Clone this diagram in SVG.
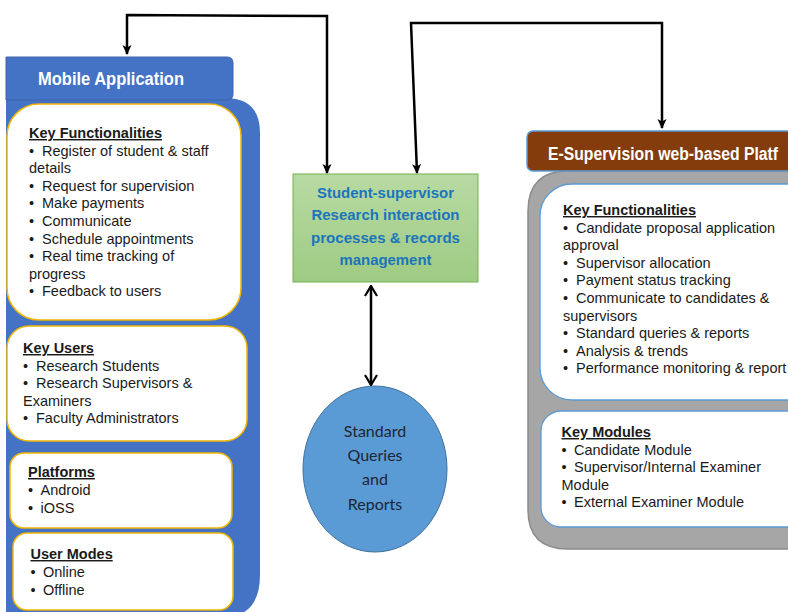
<svg xmlns="http://www.w3.org/2000/svg" width="788" height="612" viewBox="0 0 788 612">
<style>
.t{font-family:"Liberation Sans",Arial,sans-serif;font-size:14.5px;fill:#1a1a1a}
.h{font-family:"Liberation Sans",Arial,sans-serif;font-size:14.5px;font-weight:bold;fill:#1a1a1a;text-decoration:underline}
.wb{fill:#ffffff;stroke:#f2b705;stroke-width:1.5}
.wr{fill:#ffffff;stroke:#5b9bd5;stroke-width:1.3}
.hd{font-family:"Liberation Sans",Arial,sans-serif;font-size:17.5px;font-weight:bold;fill:#ffffff}
.g{font-family:"Liberation Sans",Arial,sans-serif;font-size:15px;font-weight:bold;fill:#1b75bc;text-anchor:middle}
.e{font-family:Lato,"Open Sans",sans-serif;font-size:16px;fill:#1d2633;text-anchor:middle}
.c{fill:none;stroke:#000;stroke-width:2.5}
</style>
<defs>
<marker id="fa" viewBox="0 0 10 10" refX="9" refY="5" markerWidth="11" markerHeight="10" markerUnits="userSpaceOnUse" orient="auto-start-reverse">
<path d="M0,0.5 L10,5 L0,9.5 L2.5,5 Z" fill="#000"/>
</marker>
<marker id="va" viewBox="0 0 12 14" refX="11" refY="7" markerWidth="12" markerHeight="14" markerUnits="userSpaceOnUse" orient="auto-start-reverse">
<path d="M1,1 L11,7 L1,13" fill="none" stroke="#000" stroke-width="2.2"/>
</marker>
<linearGradient id="gg" x1="0" y1="0" x2="0" y2="1">
<stop offset="0" stop-color="#b8daa3"/>
<stop offset="1" stop-color="#9ecb83"/>
</linearGradient>
</defs>
<rect width="788" height="612" fill="#ffffff"/>

<g id="mobile-app">
<path d="M6,98 L225,98 Q260,98 260,133 L260,575 Q260,618 220,618 L6,618 Z" fill="#4472c4"/>
<path d="M6,57 L227,57 Q233,57 233,63 L233,94 Q233,100 227,100 L6,100 Z" fill="#4472c4" stroke="#3b64ad" stroke-width="1"/>
<text class="hd" x="38" y="85" textLength="146" lengthAdjust="spacingAndGlyphs">Mobile Application</text>
</g>

<g id="mobile-functionalities">
<rect class="wb" x="7" y="104" width="234" height="216" rx="32"/>
<text class="h" x="29" y="138">Key Functionalities</text>
<text class="t" x="29" y="155.6">•</text><text class="t" x="42" y="155.6">Register of student &amp; staff</text>
<text class="t" x="29" y="173.2">details</text>
<text class="t" x="29" y="190.8">•</text><text class="t" x="42" y="190.8">Request for supervision</text>
<text class="t" x="29" y="208.4">•</text><text class="t" x="42" y="208.4">Make payments</text>
<text class="t" x="29" y="226">•</text><text class="t" x="42" y="226">Communicate</text>
<text class="t" x="29" y="243.6">•</text><text class="t" x="42" y="243.6">Schedule appointments</text>
<text class="t" x="29" y="261.2">•</text><text class="t" x="42" y="261.2">Real time tracking of</text>
<text class="t" x="29" y="278.8">progress</text>
<text class="t" x="29" y="296.4">•</text><text class="t" x="42" y="296.4">Feedback to users</text>
</g>

<g id="mobile-users">
<rect class="wb" x="7" y="326" width="240" height="115" rx="22"/>
<text class="h" x="23" y="353">Key Users</text>
<text class="t" x="23" y="370.6">•</text><text class="t" x="36" y="370.6">Research Students</text>
<text class="t" x="23" y="388.2">•</text><text class="t" x="36" y="388.2">Research Supervisors &amp;</text>
<text class="t" x="23" y="405.8">Examiners</text>
<text class="t" x="23" y="423.4">•</text><text class="t" x="36" y="423.4">Faculty Administrators</text>
</g>

<g id="mobile-platforms">
<rect class="wb" x="10" y="453" width="222" height="75" rx="14"/>
<text class="h" x="28" y="477">Platforms</text>
<text class="t" x="28" y="495">•</text><text class="t" x="40.5" y="495">Android</text>
<text class="t" x="28" y="512.5">•</text><text class="t" x="40.5" y="512.5">iOSS</text>
</g>

<g id="mobile-modes">
<rect class="wb" x="13" y="533" width="220" height="77" rx="14"/>
<text class="h" x="30.5" y="559">User Modes</text>
<text class="t" x="30.5" y="577">•</text><text class="t" x="43" y="577">Online</text>
<text class="t" x="30.5" y="595">•</text><text class="t" x="43" y="595">Offline</text>
</g>

<g id="interaction">
<rect x="293" y="174" width="185" height="108" fill="url(#gg)" stroke="#74b052" stroke-width="1"/>
<text class="g" x="385.5" y="197.5" textLength="137" lengthAdjust="spacingAndGlyphs">Student-supervisor</text>
<text class="g" x="385.5" y="219.5" textLength="148" lengthAdjust="spacingAndGlyphs">Research interaction</text>
<text class="g" x="385.5" y="242.5" textLength="149" lengthAdjust="spacingAndGlyphs">processes &amp; records</text>
<text class="g" x="385.5" y="264.5" textLength="92" lengthAdjust="spacingAndGlyphs">management</text>
</g>

<g id="reports">
<ellipse cx="375" cy="469" rx="72" ry="83" fill="#5b9bd5" stroke="#41719c" stroke-width="1"/>
<text class="e" x="375" y="437">Standard</text>
<text class="e" x="375" y="461">Queries</text>
<text class="e" x="375" y="485">and</text>
<text class="e" x="375" y="510">Reports</text>
</g>

<g id="e-supervision">
<path d="M800,171 L568,171 Q528,171 528,211 L528,510 Q528,549 568,549 L800,549 Z" fill="#a6a6a6" stroke="#8a8a8a" stroke-width="1.5"/>
<rect x="527" y="131" width="290" height="40" rx="6" fill="#843c0c" stroke="#5b9bd5" stroke-width="1.5"/>
<text class="hd" x="548" y="160" textLength="230" lengthAdjust="spacingAndGlyphs">E-Supervision web-based Platf</text>
</g>

<g id="web-functionalities">
<rect class="wr" x="540" y="184" width="280" height="216" rx="32"/>
<text class="h" x="563" y="215">Key Functionalities</text>
<text class="t" x="563" y="232.6">•</text><text class="t" x="576" y="232.6">Candidate proposal application</text>
<text class="t" x="563" y="250.2">approval</text>
<text class="t" x="563" y="267.8">•</text><text class="t" x="576" y="267.8">Supervisor allocation</text>
<text class="t" x="563" y="285.4">•</text><text class="t" x="576" y="285.4">Payment status tracking</text>
<text class="t" x="563" y="303">•</text><text class="t" x="576" y="303">Communicate to candidates &amp;</text>
<text class="t" x="563" y="320.6">supervisors</text>
<text class="t" x="563" y="338.2">•</text><text class="t" x="576" y="338.2">Standard queries &amp; reports</text>
<text class="t" x="563" y="355.8">•</text><text class="t" x="576" y="355.8">Analysis &amp; trends</text>
<text class="t" x="563" y="373.4">•</text><text class="t" x="576" y="373.4">Performance monitoring &amp; report</text>
</g>

<g id="web-modules">
<rect class="wr" x="541" y="411" width="280" height="116" rx="20"/>
<text class="h" x="561.5" y="437">Key Modules</text>
<text class="t" x="561.5" y="454.6">•</text><text class="t" x="574" y="454.6">Candidate Module</text>
<text class="t" x="561.5" y="472.2">•</text><text class="t" x="574" y="472.2">Supervisor/Internal Examiner</text>
<text class="t" x="561.5" y="489.8">Module</text>
<text class="t" x="561.5" y="507.4">•</text><text class="t" x="574" y="507.4">External Examiner Module</text>
</g>

<g id="connectors">
<path class="c" d="M127,54 L127,15 L327,16 L327,173" marker-start="url(#fa)" marker-end="url(#fa)"/>
<path class="c" d="M417,173 L411,23 L662,23 L662,128" marker-start="url(#fa)" marker-end="url(#fa)"/>
<path class="c" d="M371,286 L371,385" marker-start="url(#va)" marker-end="url(#va)"/>
</g>
</svg>
